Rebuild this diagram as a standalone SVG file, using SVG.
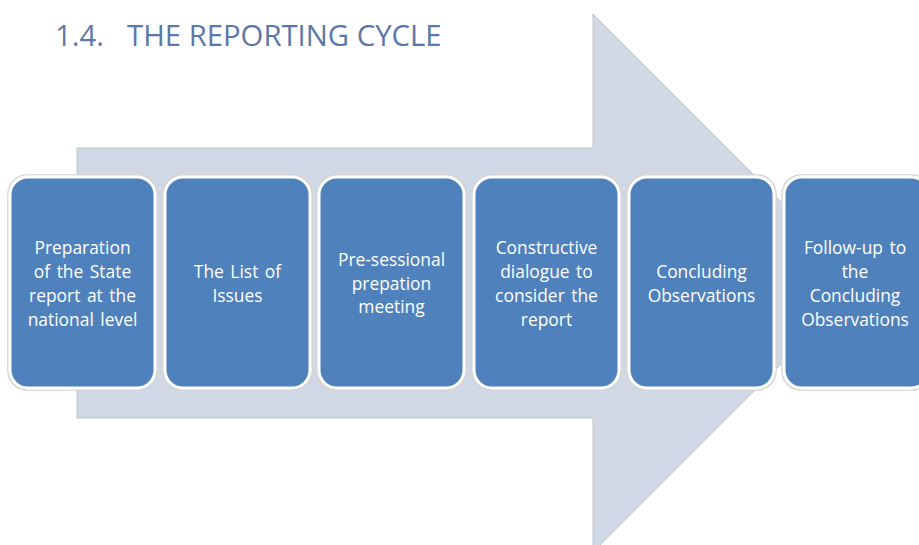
<svg xmlns="http://www.w3.org/2000/svg" width="919" height="545" viewBox="0 0 919 545">
<style>
.box{fill:#4F81BD;stroke:#FFFFFF;stroke-width:3}
.shadow{fill:none;stroke:#d4d4d4;stroke-width:1.5}
.lbl{font-family:"Open Sans",Lato,sans-serif;font-size:17.4px;font-weight:500;word-spacing:2px;fill:#FFFFFF;text-anchor:middle}
.title{font-family:"Open Sans",sans-serif;font-size:29.3px;fill:#5B78AA}
</style>
<rect width="919" height="545" fill="#FFFFFF"/>
<text class="title" x="55" y="46">1.4.</text>
<text class="title" x="127" y="46">THE REPORTING CYCLE</text>
<g id="connectors">
<polygon points="77,148 593,148 593,14 862,283 593,552 593,418 77,418" fill="#D0D8E6" stroke="#BFC3CB" stroke-width="1"/>
</g>
<g id="n1">
<rect class="shadow" x="8" y="175" width="149" height="215" rx="19"/>
<rect class="box" x="10" y="177" width="145" height="211" rx="18"/>
<text class="lbl" x="82.5" y="254">Preparation</text>
<text class="lbl" x="82.5" y="278">of the State</text>
<text class="lbl" x="82.5" y="302">report at the</text>
<text class="lbl" x="82.5" y="326">national level</text>
</g>
<g id="n2">
<rect class="shadow" x="163" y="175" width="149" height="215" rx="19"/>
<rect class="box" x="165" y="177" width="145" height="211" rx="18"/>
<text class="lbl" x="237.5" y="278">The List of</text>
<text class="lbl" x="237.5" y="302">Issues</text>
</g>
<g id="n3">
<rect class="shadow" x="317" y="175" width="149" height="215" rx="19"/>
<rect class="box" x="319" y="177" width="145" height="211" rx="18"/>
<text class="lbl" x="391.5" y="266">Pre-sessional</text>
<text class="lbl" x="391.5" y="290">prepation</text>
<text class="lbl" x="391.5" y="313">meeting</text>
</g>
<g id="n4">
<rect class="shadow" x="472" y="175" width="149" height="215" rx="19"/>
<rect class="box" x="474" y="177" width="145" height="211" rx="18"/>
<text class="lbl" x="546.5" y="254">Constructive</text>
<text class="lbl" x="546.5" y="278">dialogue to</text>
<text class="lbl" x="546.5" y="302">consider the</text>
<text class="lbl" x="546.5" y="326">report</text>
</g>
<g id="n5">
<rect class="shadow" x="627" y="175" width="149" height="215" rx="19"/>
<rect class="box" x="629" y="177" width="145" height="211" rx="18"/>
<text class="lbl" x="701.5" y="278">Concluding</text>
<text class="lbl" x="701.5" y="302">Observations</text>
</g>
<g id="n6">
<rect class="shadow" x="782" y="175" width="149" height="215" rx="19"/>
<rect class="box" x="784" y="177" width="145" height="211" rx="18"/>
<text class="lbl" x="855" y="254">Follow-up to</text>
<text class="lbl" x="855" y="278">the</text>
<text class="lbl" x="855" y="302">Concluding</text>
<text class="lbl" x="855" y="326">Observations</text>
</g>
</svg>
